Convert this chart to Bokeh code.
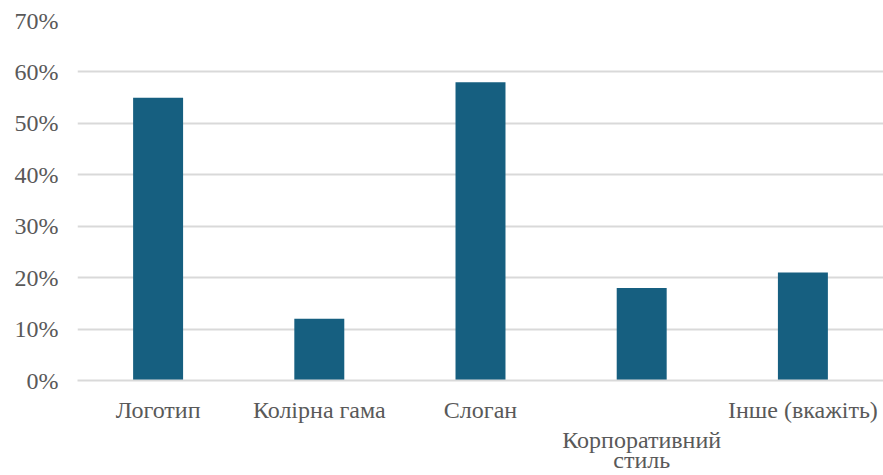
from bokeh.plotting import figure
from bokeh.models import FixedTicker, NumeralTickFormatter, Range1d, LinearAxis
from bokeh.embed import file_html
from bokeh.resources import INLINE

# Survey answers: share of respondents naming each brand element
categories = ["Логотип", "Колірна гама", "Слоган", "Корпоративний стиль", "Інше (вкажіть)"]
shares = [0.55, 0.12, 0.58, 0.18, 0.21]
y_ticks = [0.0, 0.1, 0.2, 0.3, 0.4, 0.5, 0.6, 0.7]

# The long category name is wrapped onto two lines, set lower than the others
wrapped_category = "Корпоративний стиль"
wrapped_lines = ["Корпоративний", "стиль"]

FONT = "Liberation Serif"
FONT_SIZE = "24px"
TEXT_COLOR = "#595959"
GRID_COLOR = "#d9d9d9"
BAR_COLOR = "#165f80"

positions = list(range(len(categories)))
wrapped_pos = categories.index(wrapped_category)

p = figure(
    width=883,
    height=475,
    output_backend="svg",
    toolbar_location=None,
    min_border_left=77,
    min_border_right=0,
    min_border_top=20,
    min_border_bottom=95,
    x_axis_type=None,
)
p.x_range = Range1d(-0.5, len(categories) - 0.5)
p.y_range = Range1d(0, 0.7)

p.vbar(x=positions, top=shares, width=0.31, color=BAR_COLOR, line_color=None)

p.outline_line_color = None
p.background_fill_color = "white"
p.border_fill_color = "white"

# Horizontal gridlines only
p.ygrid.grid_line_color = GRID_COLOR
p.ygrid.grid_line_width = 2
p.ygrid.ticker = FixedTicker(ticks=y_ticks)

# Y axis: percentage labels, no line or ticks
p.yaxis.ticker = FixedTicker(ticks=y_ticks)
p.yaxis.formatter = NumeralTickFormatter(format="0%")
p.yaxis.axis_line_color = None
p.yaxis.major_tick_line_color = None
p.yaxis.minor_tick_line_color = None
p.yaxis.major_label_text_font = FONT
p.yaxis.major_label_text_font_size = FONT_SIZE
p.yaxis.major_label_text_color = TEXT_COLOR
p.yaxis.major_label_standoff = 13


def category_axis(ticks, labels, standoff, line_color=None):
    axis = LinearAxis(
        ticker=FixedTicker(ticks=ticks),
        major_label_overrides=labels,
        major_label_standoff=standoff,
        major_label_text_font=FONT,
        major_label_text_font_size=FONT_SIZE,
        major_label_text_color=TEXT_COLOR,
        axis_line_color=line_color,
        axis_line_width=2,
        major_tick_line_color=None,
        minor_tick_line_color=None,
    )
    p.add_layout(axis, "below")
    return axis


# Main category row (the wrapped name is written on the rows beneath it)
main_labels = {i: (" " if i == wrapped_pos else name) for i, name in zip(positions, categories)}
category_axis(positions, main_labels, 10, line_color=GRID_COLOR)

# Rows holding the wrapped name, one line each
category_axis([wrapped_pos], {wrapped_pos: wrapped_lines[0]}, -5)
category_axis([wrapped_pos], {wrapped_pos: wrapped_lines[1]}, -15)

open("out.html", "w").write(file_html(p, INLINE))
